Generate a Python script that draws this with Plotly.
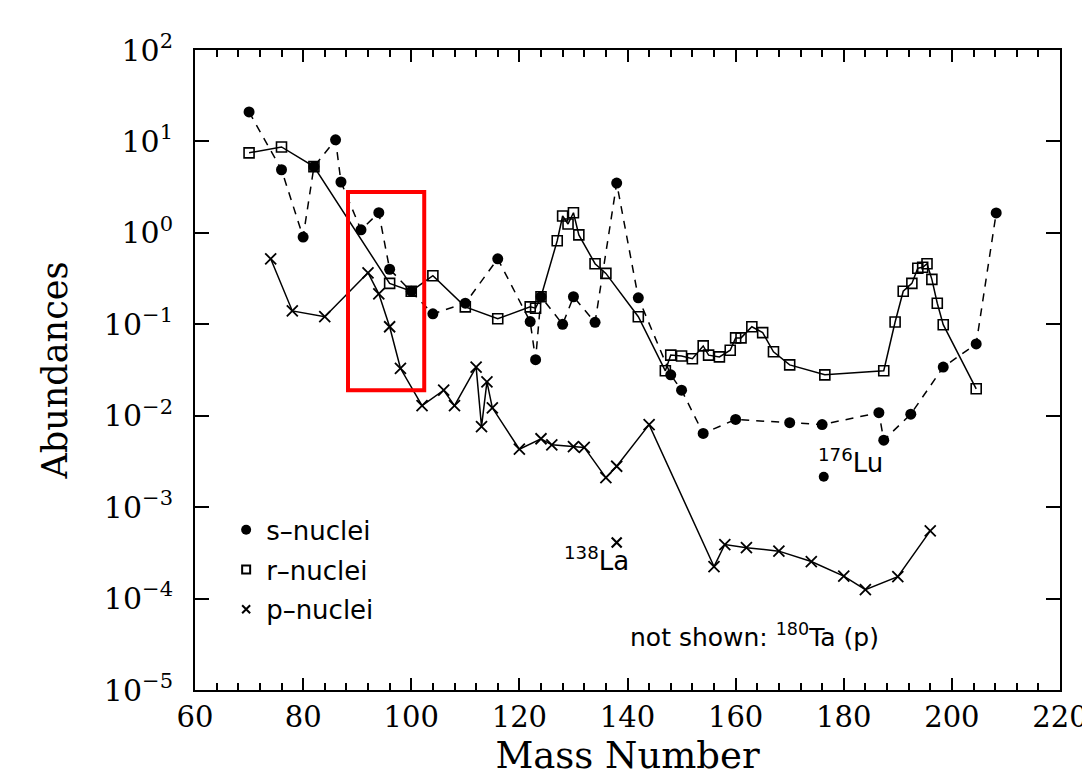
import math
import plotly.graph_objects as go

# ---------------- data ----------------
s_mass = [70, 76, 80, 82, 86, 87, 90.7, 94, 96, 100, 104, 110, 116, 122, 123, 124,
          128, 130, 134, 138, 142, 148, 150, 154, 160, 170, 176, 186.5, 187.4,
          192.4, 198.4, 204.5, 208.2]
s_abund = [21, 4.9, 0.9, 5.3, 10.4, 3.6, 1.08, 1.66, 0.40, 0.23, 0.13, 0.17, 0.52,
           0.107, 0.041, 0.20, 0.10, 0.20, 0.105, 3.5, 0.195, 0.028, 0.019, 0.0064,
           0.0091, 0.0084, 0.0080, 0.0108, 0.0054, 0.0104, 0.034, 0.061, 1.65]

r_mass = [70, 76, 82, 96, 100, 104, 110, 116, 122, 123, 124, 127, 128, 129, 130, 131,
          134, 136, 142, 147, 148, 150, 152, 154, 155, 157, 159, 160, 161, 163, 165,
          167, 170, 176.5, 187.4, 189.5, 191, 192.6, 193.7, 194.6, 195.4, 196.3,
          197.3, 198.4, 204.5]
r_abund = [7.5, 8.7, 5.3, 0.28, 0.23, 0.34, 0.155, 0.115, 0.155, 0.15, 0.20, 0.82,
           1.53, 1.25, 1.66, 0.95, 0.46, 0.36, 0.121, 0.031, 0.046, 0.045, 0.042,
           0.058, 0.046, 0.044, 0.052, 0.071, 0.071, 0.094, 0.081, 0.050, 0.036,
           0.028, 0.031, 0.106, 0.23, 0.28, 0.41, 0.42, 0.46, 0.31, 0.17, 0.099,
           0.0197]

p_mass = [74, 78, 84, 92, 94, 96, 98, 102, 106, 108, 112, 113, 114, 115, 120, 124,
          126, 130, 132, 136, 138, 144, 156, 158, 162, 168, 174, 180, 184, 190, 196]
p_abund = [0.52, 0.14, 0.121, 0.366, 0.215, 0.094, 0.033, 0.0129, 0.019, 0.0129,
           0.034, 0.0076, 0.0235, 0.0122, 0.0043, 0.0056, 0.0048, 0.0046, 0.0045,
           0.0021, 0.0028, 0.008, 0.000224, 0.00039, 0.00036, 0.00033, 0.000254,
           0.000176, 0.000125, 0.000174, 0.00055]

lu176_mass = [176.3]
lu176_abund = [0.00215]
la138_mass = [138]
la138_abund = [0.00041]

x_tickvals = [60, 80, 100, 120, 140, 160, 180, 200, 220]
y_tickvals = [1e-5, 1e-4, 1e-3, 1e-2, 1e-1, 1e0, 1e1, 1e2]
y_ticktext = ["10<sup>\u22125</sup>", "10<sup>\u22124</sup>", "10<sup>\u22123</sup>",
              "10<sup>\u22122</sup>", "10<sup>\u22121</sup>", "10<sup>0</sup>",
              "10<sup>1</sup>", "10<sup>2</sup>"]

legend_names = ["s\u2013nuclei", "r\u2013nuclei", "p\u2013nuclei"]

# highlighted box (data units)
box_mass = [88.3, 102.4]
box_abund = [0.019, 2.8]

SERIF = "DejaVu Serif"
SANS = "DejaVu Sans"
BLACK = "black"

fig = go.Figure()

fig.add_trace(go.Scatter(
    x=s_mass, y=s_abund, mode="lines+markers", showlegend=False,
    line=dict(color=BLACK, width=1.5, dash="8px,7px"),
    marker=dict(symbol="circle", size=11, color=BLACK)))

fig.add_trace(go.Scatter(
    x=r_mass, y=r_abund, mode="lines+markers", showlegend=False,
    line=dict(color=BLACK, width=1.5),
    marker=dict(symbol="square-open", size=10, color=BLACK, line=dict(width=1.6))))

fig.add_trace(go.Scatter(
    x=p_mass, y=p_abund, mode="lines+markers", showlegend=False,
    line=dict(color=BLACK, width=1.5),
    marker=dict(symbol="x-thin-open", size=11, color=BLACK, line=dict(width=1.8, color=BLACK))))

fig.add_trace(go.Scatter(
    x=lu176_mass, y=lu176_abund, mode="markers", showlegend=False,
    marker=dict(symbol="circle", size=10, color=BLACK)))

fig.add_trace(go.Scatter(
    x=la138_mass, y=la138_abund, mode="markers", showlegend=False,
    marker=dict(symbol="x-thin-open", size=10, color=BLACK, line=dict(width=2.2, color=BLACK))))

# legend-only traces
legend_markers = [
    dict(symbol="circle", size=10, color=BLACK),
    dict(symbol="square-open", size=8, color=BLACK, line=dict(width=2)),
    dict(symbol="x-thin-open", size=8, color=BLACK, line=dict(width=2, color=BLACK)),
]
for name, mk in zip(legend_names, legend_markers):
    fig.add_trace(go.Scatter(x=[None], y=[None], mode="markers", name=name,
                             legendgroup=name, marker=mk))

fig.add_shape(type="rect", xref="x", yref="y",
              x0=box_mass[0], x1=box_mass[1], y0=box_abund[0], y1=box_abund[1],
              line=dict(color="#ff0000", width=4))

fig.add_annotation(x=134.2, y=math.log10(0.00027), xref="x", yref="y",
                   text="<sup>138</sup>La", showarrow=False,
                   font=dict(family=SANS, size=26, color=BLACK))
fig.add_annotation(x=181.3, y=math.log10(0.0032), xref="x", yref="y",
                   text="<sup>176</sup>Lu", showarrow=False,
                   font=dict(family=SANS, size=26, color=BLACK))
fig.add_annotation(x=163.4, y=math.log10(3.9e-5), xref="x", yref="y",
                   text="not shown: <sup>180</sup>Ta (p)", showarrow=False,
                   font=dict(family=SANS, size=25, color=BLACK))

axis_common = dict(showline=True, linecolor=BLACK, linewidth=2, mirror="allticks",
                   ticks="inside", tickcolor=BLACK, showgrid=False, zeroline=False,
                   automargin=False, ticklabeloverflow="allow")

# page body has an 8px margin: compensate so the plot box lands where intended
fig.update_layout(
    width=1082, height=775,
    paper_bgcolor="white", plot_bgcolor="white",
    margin=dict(l=187, r=30, t=42, b=93),
    showlegend=True,
    legend=dict(x=0.036, y=0.287, xanchor="left", yanchor="top",
                font=dict(family=SANS, size=26, color=BLACK),
                bgcolor="rgba(0,0,0,0)", tracegroupgap=3, traceorder="grouped"),
    xaxis=dict(range=[60, 220], tickvals=x_tickvals, ticklen=12, tickwidth=1.5,
               minor=dict(dtick=4, ticks="inside", ticklen=7, tickcolor=BLACK, showgrid=False),
               tickfont=dict(family=SERIF, size=29, color=BLACK),
               title=dict(text="Mass Number", font=dict(family=SERIF, size=37, color=BLACK),
                          standoff=2),
               **axis_common),
    yaxis=dict(type="log", range=[-5, 2], tickvals=y_tickvals, ticktext=y_ticktext,
               ticklen=14, tickwidth=1.5, ticklabelstandoff=14,
               tickfont=dict(family=SERIF, size=30, color=BLACK),
               title=dict(text="Abundances", font=dict(family=SERIF, size=35, color=BLACK),
                          standoff=26),
               **axis_common),
)

fig.write_html("out.html")
